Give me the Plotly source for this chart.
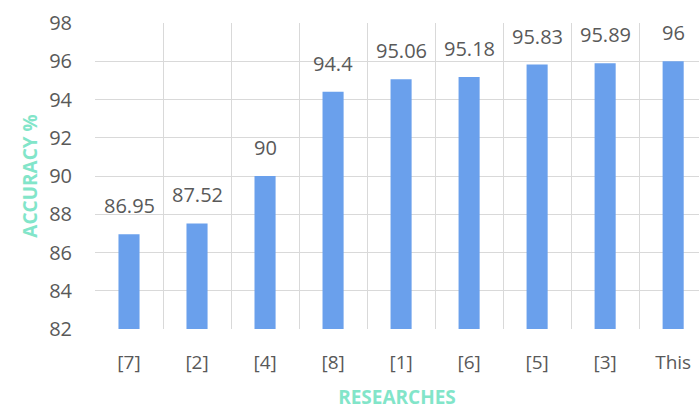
import plotly.graph_objects as go

# Accuracy reported by each study
researches = ["[7]", "[2]", "[4]", "[8]", "[1]", "[6]", "[5]", "[3]", "This"]
accuracy = [86.95, 87.52, 90, 94.4, 95.06, 95.18, 95.83, 95.89, 96]
value_labels = ["86.95", "87.52", "90", "94.4", "95.06", "95.18", "95.83", "95.89", "96"]

BAR_COLOR = "#6aa0ec"
TITLE_COLOR = "#82e5c9"
TEXT_COLOR = "#595959"
GRID_COLOR = "#d9d9d9"
FONT = "Open Sans, DejaVu Sans, sans-serif"

fig = go.Figure(
    go.Bar(
        x=researches,
        y=accuracy,
        width=0.31,
        marker=dict(color=BAR_COLOR, line=dict(width=0)),
        hoverinfo="x+y",
    )
)

# value labels above each bar
for name, val, lab in zip(researches, accuracy, value_labels):
    fig.add_annotation(
        x=name, y=val, text=lab, showarrow=False,
        yanchor="bottom", yshift=13,
        font=dict(family=FONT, size=20, color=TEXT_COLOR),
    )

fig.update_layout(
    width=699, height=410,
    margin=dict(l=95, r=0, t=23, b=81),
    paper_bgcolor="white", plot_bgcolor="white",
    showlegend=False,
    font=dict(family=FONT, size=16, color=TEXT_COLOR),
)

fig.update_xaxes(
    type="category",
    range=[-0.5, 8.38],
    tickson="boundaries",
    showgrid=True, gridcolor=GRID_COLOR, gridwidth=1,
    ticks="", showline=False, zeroline=False,
    ticklabelstandoff=20,
    tickfont=dict(family=FONT, size=19, color=TEXT_COLOR),
    title=dict(text="<b>RESEARCHES</b>", standoff=23,
               font=dict(family=FONT, size=19, color=TITLE_COLOR)),
)

fig.update_yaxes(
    range=[82, 98], dtick=2, tick0=82,
    showgrid=True, gridcolor=GRID_COLOR, gridwidth=1,
    ticks="", showline=False, zeroline=False,
    ticklabelstandoff=22,
    tickfont=dict(family=FONT, size=20, color=TEXT_COLOR),
    title=dict(text="<b>ACCURACY %</b>", standoff=6,
               font=dict(family=FONT, size=19, color=TITLE_COLOR)),
)

fig.write_html("out.html")
